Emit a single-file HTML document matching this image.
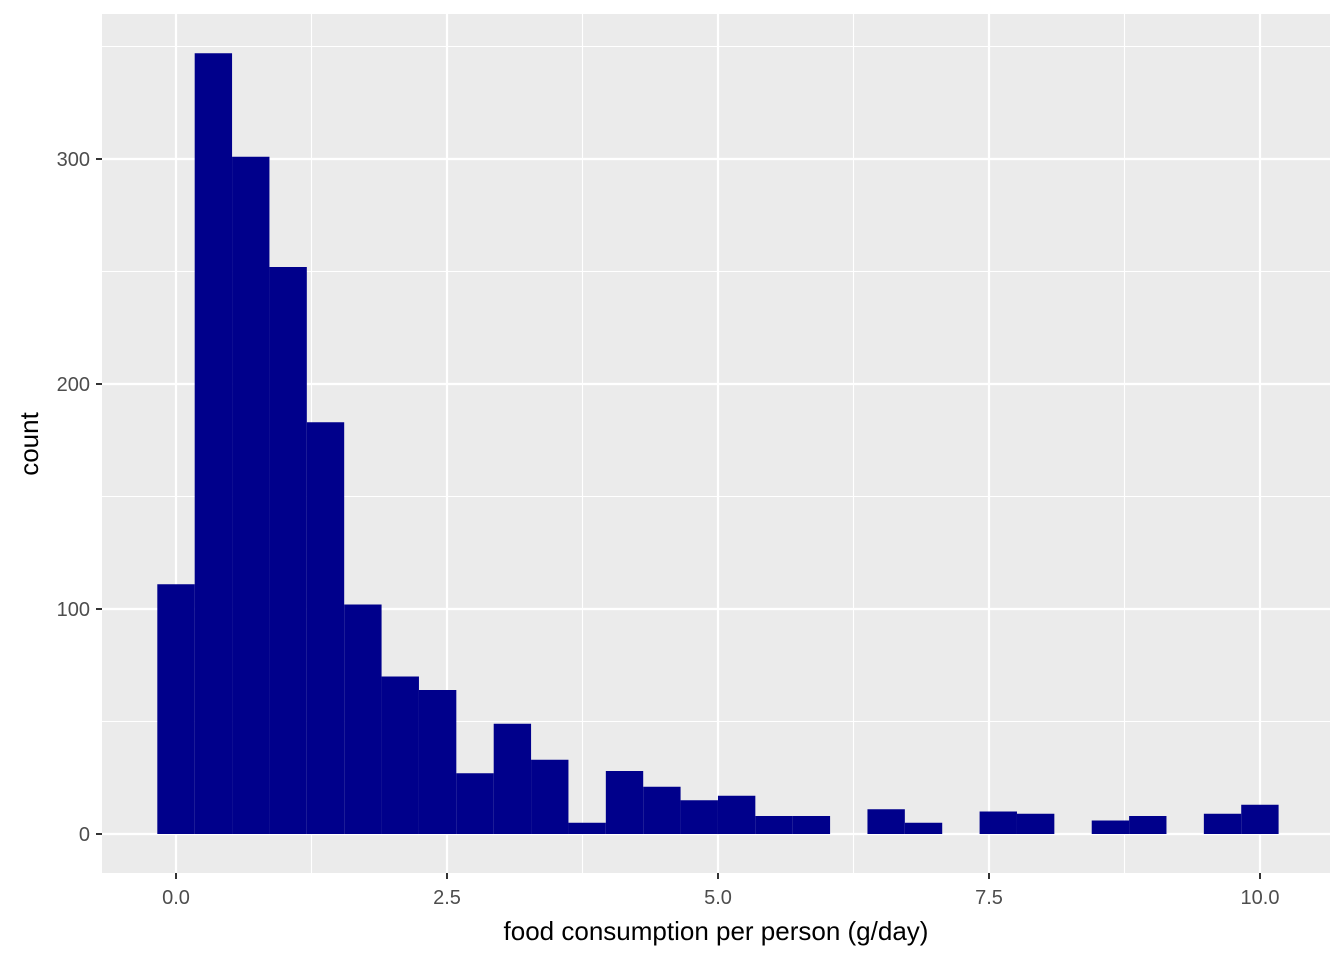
<!DOCTYPE html>
<html><head><meta charset="utf-8"><style>
body{margin:0;background:#fff}
svg{display:block;font-family:"Liberation Sans",Arial,sans-serif}
</style></head><body>
<svg id="chart" width="1344" height="960">
<rect x="102" y="14" width="1228" height="859" fill="#ebebeb"/>
<g id="grid"></g><g id="bars"></g><g id="axes"></g>
<text x="716" y="940" font-size="26" text-anchor="middle" fill="#000">food consumption per person (g/day)</text>
<text transform="translate(38,444) rotate(-90)" font-size="26" text-anchor="middle" fill="#000">count</text>
</svg>
<script>
const binWidth = 0.3448;
const counts = [111,347,301,252,183,102,70,64,27,49,33,5,28,21,15,17,8,8,0,11,5,0,10,9,0,6,8,0,9,13];
const xTicks = [0,2.5,5,7.5,10];
const xTickLabels = ["0.0","2.5","5.0","7.5","10.0"];
const yTicks = [0,100,200,300];
const yTickLabels = ["0","100","200","300"];
const xMinor = [1.25,3.75,6.25,8.75];
const yMinor = [50,150,250,350];
const NS="http://www.w3.org/2000/svg";
const px = v => 176 + v*108.4;
const py = v => 834 - v*2.25;
function mk(tag, attrs, parent){const e=document.createElementNS(NS,tag);for(const k in attrs)e.setAttribute(k,attrs[k]);document.getElementById(parent).appendChild(e);return e;}
xMinor.forEach(v=>{const l=mk('line',{x1:px(v),x2:px(v),y1:14,y2:873,stroke:'#fff','stroke-width':1.1},'grid');

});
yMinor.forEach(v=>{const l=mk('line',{x1:102,x2:1330,y1:py(v),y2:py(v),stroke:'#fff','stroke-width':1.1},'grid');

});
xTicks.forEach((v,i)=>{const l=mk('line',{x1:px(v),x2:px(v),y1:14,y2:873,stroke:'#fff','stroke-width':2.2},'grid');


const t=mk('line',{x1:px(v),x2:px(v),y1:873,y2:879,stroke:'#333','stroke-width':2},'axes');


const tx=mk('text',{x:px(v),y:904,'font-size':20,'text-anchor':'middle',fill:'#4d4d4d'},'axes');tx.textContent=xTickLabels[i];

});
yTicks.forEach((v,i)=>{const l=mk('line',{x1:102,x2:1330,y1:py(v),y2:py(v),stroke:'#fff','stroke-width':2.2},'grid');


const t=mk('line',{x1:96,x2:102,y1:py(v),y2:py(v),stroke:'#333','stroke-width':2},'axes');


const tx=mk('text',{x:90,y:py(v)+7,'font-size':20,'text-anchor':'end',fill:'#4d4d4d'},'axes');tx.textContent=yTickLabels[i];

});
counts.forEach((c,i)=>{if(c<=0)return;const c0=i*binWidth;const x0=px(c0-binWidth/2),x1=px(c0+binWidth/2);
const r=mk('rect',{x:x0,y:py(c),width:x1-x0,height:py(0)-py(c),fill:'#00008b'},'bars');

});
</script>
</body></html>
